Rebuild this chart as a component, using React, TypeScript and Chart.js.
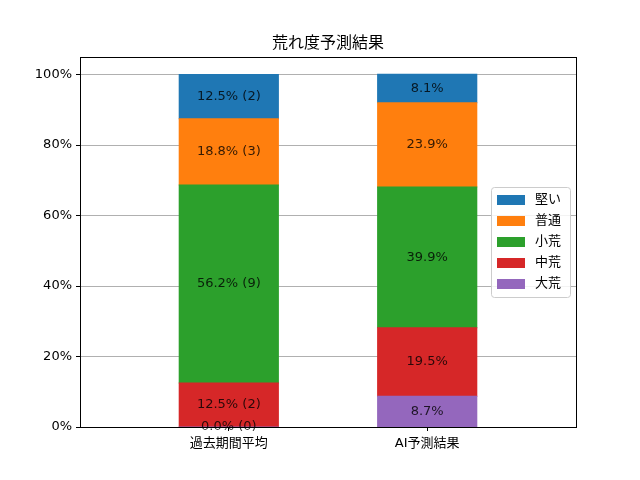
import React, { useEffect, useRef } from 'react';
import { Chart, registerables } from 'chart.js';

Chart.register(...registerables);

// カテゴリ (x 軸)
const categories = ['過去期間平均', 'AI予測結果'];
// 積み上げ順 (下から)
const levels = ['大荒', '中荒', '小荒', '普通', '堅い'];
const levelColors = ['#9467bd', '#d62728', '#2ca02c', '#ff7f0e', '#1f77b4'];
// 割合 (%)
const pastValues = [0.0, 12.5, 56.2, 18.8, 12.5];
const pastCounts = [0, 2, 9, 3, 2];
const aiValues = [8.7, 19.5, 39.9, 23.9, 8.1];
const yTicks = [0, 20, 40, 60, 80, 100];

const FONT = '"DejaVu Sans", "Noto Sans CJK JP", sans-serif';

const App: React.FC = () => {
  const chartRef = useRef<HTMLCanvasElement>(null);
  const chartInstance = useRef<Chart | null>(null);

  useEffect(() => {
    if (!chartRef.current) return;
    if (chartInstance.current) chartInstance.current.destroy();

    const datasets = levels.map((name, i) => ({
      label: name,
      data: [
        { x: 0, y: pastValues[i] },
        { x: 1, y: aiValues[i] },
      ],
      backgroundColor: levelColors[i],
      borderWidth: 0,
      inflateAmount: 0.5,
      barPercentage: 0.5,
      categoryPercentage: 1,
    }));

    // 棒の中央にラベル、枠、タイトル、凡例
    const decor = {
      id: 'decor',
      afterDatasetsDraw(chart: any) {
        const { ctx, chartArea } = chart;
        ctx.save();
        ctx.font = `13px ${FONT}`;
        ctx.fillStyle = 'rgba(0,0,0,0.8)';
        ctx.textAlign = 'center';
        ctx.textBaseline = 'middle';
        chart.data.datasets.forEach((_: any, di: number) => {
          const meta = chart.getDatasetMeta(di);
          meta.data.forEach((bar: any, j: number) => {
            const cy = (bar.y + bar.base) / 2;
            const text = j === 0
              ? `${pastValues[di].toFixed(1)}% (${pastCounts[di]})`
              : `${aiValues[di].toFixed(1)}%`;
            ctx.fillText(text, bar.x, cy);
          });
        });

        // 外枠
        ctx.strokeStyle = '#000';
        ctx.lineWidth = 1;
        ctx.strokeRect(chartArea.left + 0.5, chartArea.top + 0.5,
          chartArea.right - chartArea.left, chartArea.bottom - chartArea.top);

        // タイトル
        ctx.fillStyle = '#000';
        ctx.font = `16px ${FONT}`;
        ctx.fillText('荒れ度予測結果', (chartArea.left + chartArea.right) / 2, 44);

        // 凡例 (右中央)
        const lx = 491, ly = 187, lw = 79, lh = 110;
        ctx.fillStyle = 'rgba(255,255,255,0.85)';
        ctx.strokeStyle = '#cccccc';
        ctx.beginPath();
        ctx.roundRect(lx + 0.5, ly + 0.5, lw, lh, 3);
        ctx.fill();
        ctx.stroke();
        ctx.font = `13px ${FONT}`;
        ctx.textAlign = 'left';
        const order = [...levels.keys()].reverse();
        order.forEach((idx, k) => {
          const y = 200 + k * 21;
          ctx.fillStyle = levelColors[idx];
          ctx.fillRect(497, y - 5, 28, 10);
          ctx.fillStyle = '#000';
          ctx.fillText(levels[idx], 535, y);
        });
        ctx.restore();
      },
    };

    chartInstance.current = new Chart(chartRef.current, {
      type: 'bar',
      data: { datasets },
      plugins: [decor],
      options: {
        animation: false,
        responsive: false,
        maintainAspectRatio: false,
        layout: { padding: { left: 0, right: 64, top: 57, bottom: 0 } },
        plugins: {
          legend: { display: false },
          title: { display: false },
          tooltip: { enabled: false },
        },
        scales: {
          x: {
            type: 'linear',
            stacked: true,
            offset: false,
            min: -0.75,
            max: 1.75,
            afterBuildTicks: (scale: any) => {
              scale.ticks = categories.map((_, i) => ({ value: i }));
            },
            afterFit: (scale: any) => { scale.height = 53; },
            ticks: {
              color: '#000',
              font: { family: FONT, size: 13 },
              padding: 5,
              callback: (v: any) => categories[v] ?? '',
            },
            grid: {
              offset: false,
              drawOnChartArea: false,
              drawTicks: true,
              tickLength: 4,
              tickColor: '#000',
            },
            border: { color: '#000' },
          },
          y: {
            stacked: true,
            min: 0,
            max: 105,
            afterBuildTicks: (scale: any) => {
              scale.ticks = yTicks.map(v => ({ value: v }));
            },
            afterFit: (scale: any) => { scale.width = 80; },
            ticks: {
              color: '#000',
              font: { family: FONT, size: 13 },
              padding: 4,
              callback: (v: any) => `${v}%`,
            },
            grid: {
              color: '#b0b0b0',
              tickColor: '#000',
              tickLength: 4,
            },
            border: { color: '#000' },
          },
        },
      },
    });

    return () => {
      if (chartInstance.current) {
        chartInstance.current.destroy();
        chartInstance.current = null;
      }
    };
  }, []);

  return (
    <div style={{ position: 'absolute', left: 0, top: 0, width: 640, height: 480, background: '#fff' }}>
      <canvas ref={chartRef} width={640} height={480} style={{ width: 640, height: 480 }}></canvas>
    </div>
  );
};

export default App;
